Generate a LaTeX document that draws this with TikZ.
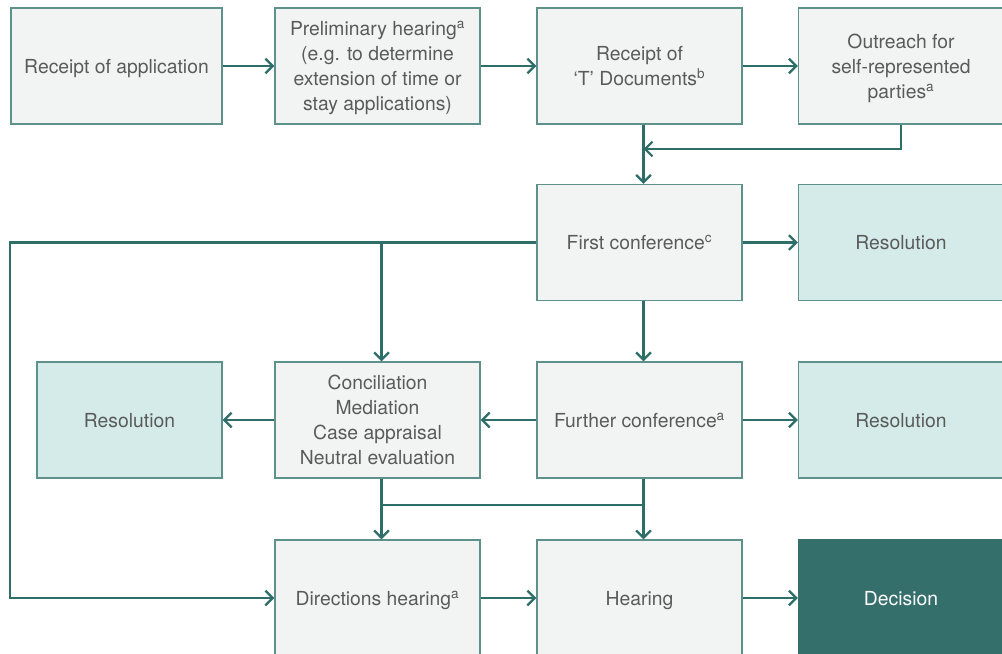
\documentclass[tikz,border=0pt]{standalone}
\usepackage{fontspec}
\setmainfont{TeX Gyre Heros}
\usetikzlibrary{arrows.meta,calc}
\definecolor{arrowc}{RGB}{46,110,105}
\definecolor{borderc}{RGB}{95,145,140}
\definecolor{boxc}{RGB}{242,244,243}
\definecolor{resc}{RGB}{212,235,234}
\definecolor{decc}{RGB}{52,111,107}
\definecolor{textc}{RGB}{90,90,90}
\begin{document}
\begin{tikzpicture}[x=0.75pt,y=-0.75pt,
  box/.style={draw=borderc, fill=boxc, line width=1.1pt, minimum width=153.75pt,
    minimum height=87pt, align=center, text=textc, inner sep=2pt, text depth=0pt,
    font=\fontsize{14.5}{18.75}\selectfont},
  res/.style={box, fill=resc},
  dec/.style={box, fill=decc, draw=decc, text=white},
  con/.style={draw=arrowc, line width=1.9pt},
  arr/.style={con, -{Straight Barb[length=5.5pt,width=11pt,line width=1.7pt]}},
  sh/.style={xshift=3pt}]
\path[use as bounding box, clip] (0,0) rectangle (1002,653);
\fill[white] (0,0) rectangle (1002,653);

\node[box, minimum width=158.25pt] (app) at (116.5,66) {Receipt of application};
\node[box] (prelim) at (377.5,66) {Preliminary hearing\textsuperscript{a}\\(e.g. to determine\\extension of time or\\stay applications)};
\node[box] (tdocs) at (639.5,66) {Receipt of\\‘T’ Documents\textsuperscript{b}};
\node[box] (outr) at (901,66) {Outreach for\\self-represented\\parties\textsuperscript{a}};
\node[box] (first) at (639.5,242.5) {First conference\textsuperscript{c}};
\node[res] (res1) at (901,242.5) {Resolution};
\node[res, minimum width=138.75pt] (res2) at (129.5,420) {Resolution};
\node[box] (adr) at (377.5,420) {Conciliation\\Mediation\\Case appraisal\\Neutral evaluation};
\node[box] (further) at (639.5,420) {Further conference\textsuperscript{a}};
\node[res] (res3) at (901,420) {Resolution};
\node[box] (dirh) at (377.5,598) {Directions hearing\textsuperscript{a}};
\node[box] (hear) at (639.5,598) {Hearing};
\node[dec] (dec) at (901,598) {Decision};

\coordinate (mrgy) at (0,149);
\coordinate (leftx) at (10,0);
\coordinate (joiny) at (0,505);

\draw[arr] (app) -- (prelim);
\draw[arr] (prelim) -- (tdocs);
\draw[arr] (tdocs) -- (outr);
\draw[arr] ([sh]tdocs.south) -- ([sh]first.north);
\draw[arr] (outr.south) |- ([sh]tdocs.south |- mrgy);
\draw[arr] (first) -- (res1);
\draw[arr] (first.west) -- (first.west -| leftx) |- (dirh.west);
\draw[arr] ([sh]first.west -| adr.north) -- ([sh]adr.north);
\draw[arr] ([sh]first.south) -- ([sh]further.north);
\draw[arr] (further) -- (adr);
\draw[arr] (further) -- (res3);
\draw[arr] (adr) -- (res2);
\draw[arr] ([sh]adr.south) -- ([sh]dirh.north);
\draw[arr] ([sh]further.south) -- ([sh]hear.north);
\draw[con] ([sh]adr.south |- joiny) -- ([sh]further.south |- joiny);
\draw[arr] (dirh) -- (hear);
\draw[arr] (hear) -- (dec);
\end{tikzpicture}
\end{document}
